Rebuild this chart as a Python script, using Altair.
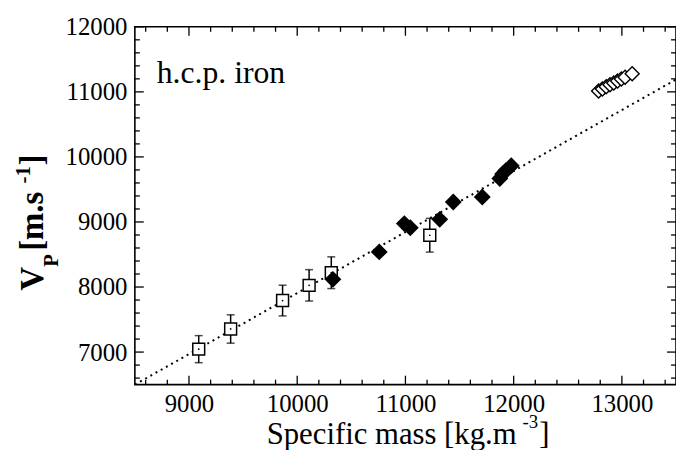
import altair as alt
import pandas as pd

# ---- data ----
sq_x = [9090, 9385, 9865, 10110, 10315, 11225]
sq_y = [7045, 7355, 7792, 8026, 8220, 8796]
sq_err = [208, 218, 236, 241, 244, 259]

fd_x = [10330, 10758, 10990, 11045, 11317, 11442, 11710, 11872, 11898, 11928, 11978]
fd_y = [8118, 8540, 8975, 8912, 9040, 9308, 9384, 9668, 9738, 9790, 9865]

od_x = [12785, 12820, 12855, 12890, 12925, 12960, 12995, 13030, 13095]
od_y = [11012, 11045, 11078, 11108, 11138, 11168, 11198, 11226, 11278]

fit_x = [8500, 13500]
fit_y = [6500, 11190]

x_major = [9000, 10000, 11000, 12000, 13000]
y_major = [7000, 8000, 9000, 10000, 11000, 12000]
x_minor = [v for v in range(8600, 13500, 200) if v % 1000 != 0]
y_minor = [v for v in range(6600, 12000, 200) if v % 1000 != 0]

W, H = 546, 361
XD, YD = [8500, 13500], [6500, 12000]
FONT = "Liberation Serif"

sq = pd.DataFrame({"x": sq_x, "y": sq_y, "lo": [a - b for a, b in zip(sq_y, sq_err)],
                   "hi": [a + b for a, b in zip(sq_y, sq_err)]})
fd = pd.DataFrame({"x": fd_x, "y": fd_y})
od = pd.DataFrame({"x": od_x, "y": od_y, "o": list(range(len(od_x)))})
fit = pd.DataFrame({"x": fit_x, "y": fit_y})

xs = alt.Scale(domain=XD, nice=False, zero=False)
ys = alt.Scale(domain=YD, nice=False, zero=False)
xax = alt.Axis(values=x_major, ticks=False, domain=False, grid=False, labelPadding=7, title=None, format="d")
yax = alt.Axis(values=y_major, ticks=False, domain=False, grid=False, labelPadding=8, title=None, format="d")

X = lambda f="x": alt.X(f"{f}:Q", scale=xs, axis=xax)
Y = lambda f="y": alt.Y(f"{f}:Q", scale=ys, axis=yax)

fitline = alt.Chart(fit).mark_line(color="black", strokeWidth=2, strokeDash=[2, 4], clip=True).encode(
    x=X(), y=Y())

bars = alt.Chart(sq).mark_rule(color="black", strokeWidth=1.5).encode(x=X(), y=Y("lo"), y2="hi")
cap_lo = alt.Chart(sq).mark_tick(color="black", orient="horizontal", size=8, thickness=1.5).encode(x=X(), y=Y("lo"))
cap_hi = alt.Chart(sq).mark_tick(color="black", orient="horizontal", size=8, thickness=1.5).encode(x=X(), y=Y("hi"))
squares = alt.Chart(sq).mark_point(shape="square", size=144, filled=True, fill="white", stroke="black",
                                   strokeWidth=1.5, opacity=1).encode(x=X(), y=Y())
dots = alt.Chart(sq).mark_point(shape="circle", size=3, filled=True, color="black", opacity=1).encode(x=X(), y=Y())

filled_d = alt.Chart(fd).mark_point(shape="diamond", size=290, filled=True, color="black", opacity=1).encode(x=X(), y=Y())
open_d = alt.Chart(od).mark_point(shape="diamond", size=200, filled=True, fill="white", stroke="black",
                                  strokeWidth=1.4, opacity=1).encode(x=X(), y=Y(), order="o:Q")

def ticks_x(vals, length, top):
    d = pd.DataFrame({"x": vals})
    y0, y1 = (0, length) if top else (H, H - length)
    return alt.Chart(d).mark_rule(color="black", strokeWidth=1.3).encode(
        x=X(), y=alt.value(y0), y2=alt.value(y1))

def ticks_y(vals, length, right):
    d = pd.DataFrame({"y": vals})
    x0, x1 = (W, W - length) if right else (0, length)
    return alt.Chart(d).mark_rule(color="black", strokeWidth=1.3).encode(
        y=Y(), x=alt.value(x0), x2=alt.value(x1))

tick_layers = [ticks_x(x_major, 9, False), ticks_x(x_minor, 5, False),
               ticks_x(x_major, 9, True), ticks_x(x_minor, 5, True),
               ticks_y(y_major, 9, False), ticks_y(y_minor, 5, False),
               ticks_y(y_major, 9, True), ticks_y(y_minor, 5, True)]

def txt(s, x, y, size, angle=0, bold=False, align="left"):
    d = pd.DataFrame({"t": [s]})
    return alt.Chart(d).mark_text(font=FONT, fontSize=size, angle=angle, align=align, baseline="alphabetic",
                                  fontWeight="bold" if bold else "normal", color="black").encode(
        x=alt.value(x), y=alt.value(y), text="t:N")

label = txt("h.c.p. iron", 22, 57, 32)

# x title: "Specific mass [kg.m" + superscript "-3" + "]"
xt1 = txt("Specific mass [kg.m", 133, 421, 31)
xt2 = txt("-3", 391, 405, 19)
xt3 = txt("]", 408, 421, 31)

# y title (rotated, reading upward): "V" + sub "P" + " [m.s" + sup "-1" + "]"
yb = -93
yt1 = txt("V", yb, 266, 33, angle=270, bold=True)
yt2 = txt("P", yb + 15, 242, 21, angle=270, bold=True)
yt3 = txt(" [m.s", yb, 226, 33, angle=270, bold=True)
yt4 = txt("-1", yb - 13, 158, 21, angle=270, bold=True)
yt5 = txt("]", yb, 140, 33, angle=270, bold=True)

chart = alt.layer(
    fitline, bars, cap_lo, cap_hi, squares, dots, filled_d, open_d, *tick_layers,
    label, xt1, xt2, xt3, yt1, yt2, yt3, yt4, yt5
).properties(
    width=W, height=H,
    autosize=alt.AutoSizeParams(type="none"),
    padding={"left": 128, "top": 17, "right": 0, "bottom": 64},
).configure_view(
    stroke="black", strokeWidth=1.6
).configure_axis(
    labelFont=FONT, labelFontSize=25, labelColor="black"
)

chart.save("out.html", embed_options={"renderer": "svg", "actions": False})
